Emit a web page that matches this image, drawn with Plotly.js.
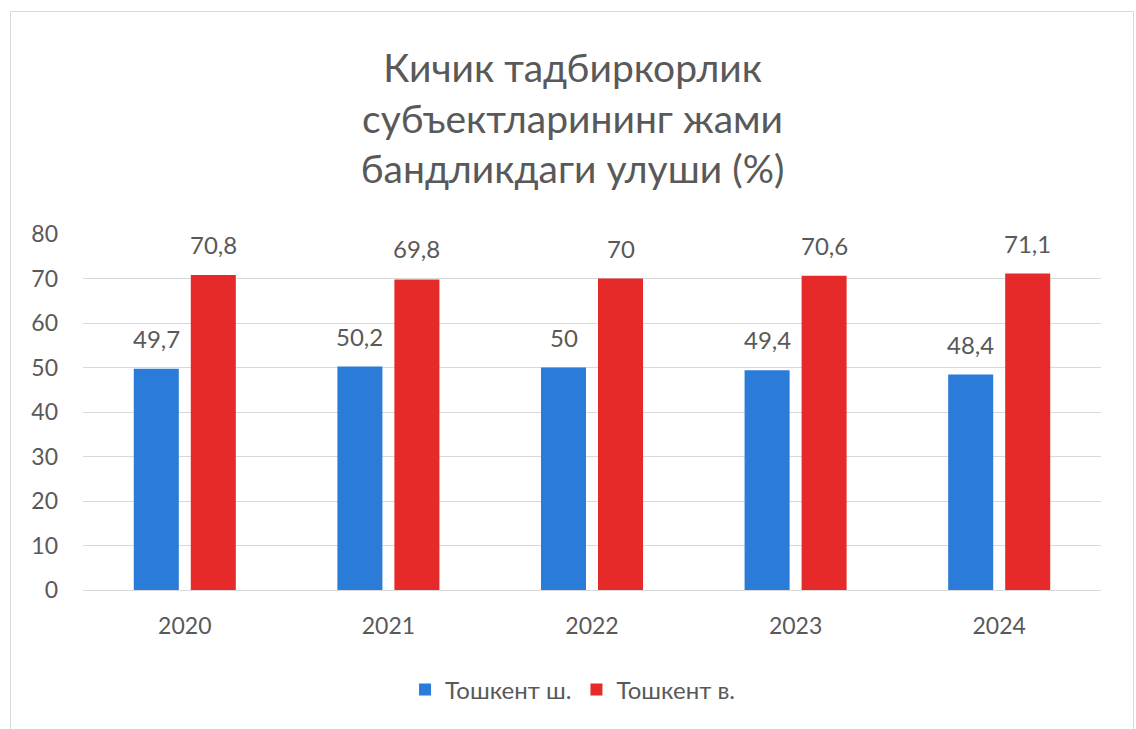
<!DOCTYPE html>
<html>
<head>
<meta charset="utf-8">
<script src="https://cdn.plot.ly/plotly-3.0.1.min.js"></script>
<style>
  html, body { margin: 0; padding: 0; background: #ffffff; }
  #chart { position: absolute; left: 0; top: 0; width: 1136px; height: 729px; }
  #frame { position: absolute; left: 10px; top: 11px; width: 1124px; height: 730px;
           border: 1px solid #d9d9d9; pointer-events: none; box-sizing: border-box; }
</style>
</head>
<body>
<div id="chart"></div>
<div id="frame"></div>
<script>
const years = ['2020', '2021', '2022', '2023', '2024'];
const cityValues = [49.7, 50.2, 50, 49.4, 48.4];
const regionValues = [70.8, 69.8, 70, 70.6, 71.1];
const seriesNames = ['Тошкент ш.', 'Тошкент в.'];
const yTicks = [0, 10, 20, 30, 40, 50, 60, 70, 80];
const titleText = 'Кичик тадбиркорлик<br>субъектларининг жами<br>бандликдаги улуши (%)';

const fmt = v => String(v).replace('.', ',');
const FONT = 'Lato, "Open Sans", sans-serif';
const GREY = '#595959';

const traces = [
  { type: 'bar', name: seriesNames[0], x: years, y: cityValues,
    marker: { color: '#2b7bd8' }, hoverinfo: 'none' },
  { type: 'bar', name: seriesNames[1], x: years, y: regionValues,
    marker: { color: '#e52a29' }, hoverinfo: 'none' }
];

const annotations = [];
[cityValues, regionValues].forEach((vals, s) => {
  vals.forEach((v, i) => {
    annotations.push({
      x: i, y: v, xref: 'x', yref: 'y', text: fmt(v),
      showarrow: false, yanchor: 'bottom', xanchor: 'center',
      xshift: s === 0 ? -28.5 : 28.5, yshift: 14,
      font: { family: FONT, size: 24, color: GREY }
    });
  });
});

const layout = {
  width: 1136, height: 729,
  paper_bgcolor: '#ffffff', plot_bgcolor: '#ffffff',
  margin: { l: 83, r: 35, t: 234, b: 139 },
  font: { family: FONT, color: GREY },
  title: { text: titleText, xref: 'container', yref: 'container',
           x: 0.504, y: 1 - 82 / 729, xanchor: 'center', yanchor: 'top',
           font: { family: FONT, size: 39, color: GREY } },
  barmode: 'group', bargap: 0.44, bargroupgap: 0.21,
  xaxis: { type: 'category', categoryarray: years, range: [-0.5, years.length - 0.5],
           showgrid: false, showline: true, linecolor: '#d9d9d9',
           linewidth: 1, ticks: '', ticklabelstandoff: 15,
           tickfont: { family: FONT, size: 23, color: GREY } },
  yaxis: { range: [0, 80], tickvals: yTicks, showgrid: true, gridcolor: '#d9d9d9',
           gridwidth: 1, zeroline: true, zerolinecolor: '#d9d9d9', showline: false,
           ticks: '', ticklabelstandoff: 24,
           tickfont: { family: FONT, size: 23, color: GREY } },
  showlegend: true,
  legend: { orientation: 'h', xref: 'container', yref: 'container',
            x: 0.504, xanchor: 'center', y: 1 - 690 / 729, yanchor: 'middle',
            font: { family: FONT, size: 24, color: GREY }, itemwidth: 30 },
  annotations: annotations
};

Plotly.newPlot('chart', traces, layout, { displayModeBar: false, staticPlot: true });
</script>
</body>
</html>
